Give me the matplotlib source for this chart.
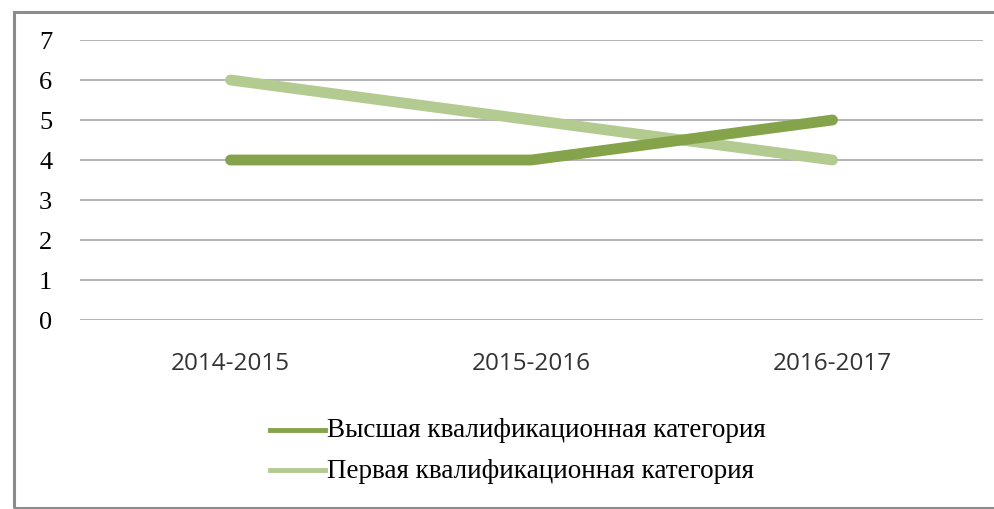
import matplotlib
matplotlib.use("Agg")
from matplotlib import pyplot as plt
from matplotlib.patches import Rectangle

years = ["2014-2015", "2015-2016", "2016-2017"]
vysshaya = [4, 4, 5]
pervaya = [6, 5, 4]
names = ["Высшая квалификационная категория", "Первая квалификационная категория"]

W, H = 994, 510
fig = plt.figure(figsize=(W / 100, H / 100), dpi=100)

# gray frame around the chart (right edge is cut off in the original)
fig.patches.append(Rectangle((13.5 / W, 1 - 508.5 / H), 1.0, (508.5 - 12.5) / H,
                             transform=fig.transFigure, fill=False,
                             edgecolor="#8c8c8c", linewidth=2.2))

ax = fig.add_axes([80 / W, 1 - 321 / H, (983 - 80) / W, (321 - 41) / H])
x = range(len(years))
ax.plot(x, pervaya, color="#b3ca90", linewidth=7.8, solid_capstyle="round",
        solid_joinstyle="round", label=names[1], zorder=3)
ax.plot(x, vysshaya, color="#85a34a", linewidth=7.8, solid_capstyle="round",
        solid_joinstyle="round", label=names[0], zorder=4)

ax.set_xlim(-0.5, 2.5)
ax.set_ylim(0, 7)
ax.set_yticks(range(0, 8))
ax.set_xticks(list(x))
ax.set_xticklabels(years, fontsize=17.5, family="Open Sans", color="#333333")
ax.set_yticklabels([str(v) for v in range(0, 8)], fontsize=19, family="Liberation Serif")
ax.tick_params(length=0)
ax.tick_params(axis="y", pad=20)
ax.tick_params(axis="x", pad=22)
ax.grid(axis="y", color="#a0a0a0", linewidth=1.1)
ax.set_axisbelow(True)
for s in ax.spines.values():
    s.set_visible(False)

# legend drawn by hand below the axes
for i, (name, col) in enumerate([(names[0], "#85a34a"), (names[1], "#b3ca90")]):
    yy = 1 - (431 + 40 * i) / H
    fig.add_artist(plt.Line2D([270 / W, 325 / W], [yy, yy], color=col, linewidth=3.5,
                              transform=fig.transFigure))
    fig.text(327 / W, yy, name, fontsize=19.5, family="Liberation Serif",
             va="center", ha="left")

fig.savefig("out.png", dpi=100)
